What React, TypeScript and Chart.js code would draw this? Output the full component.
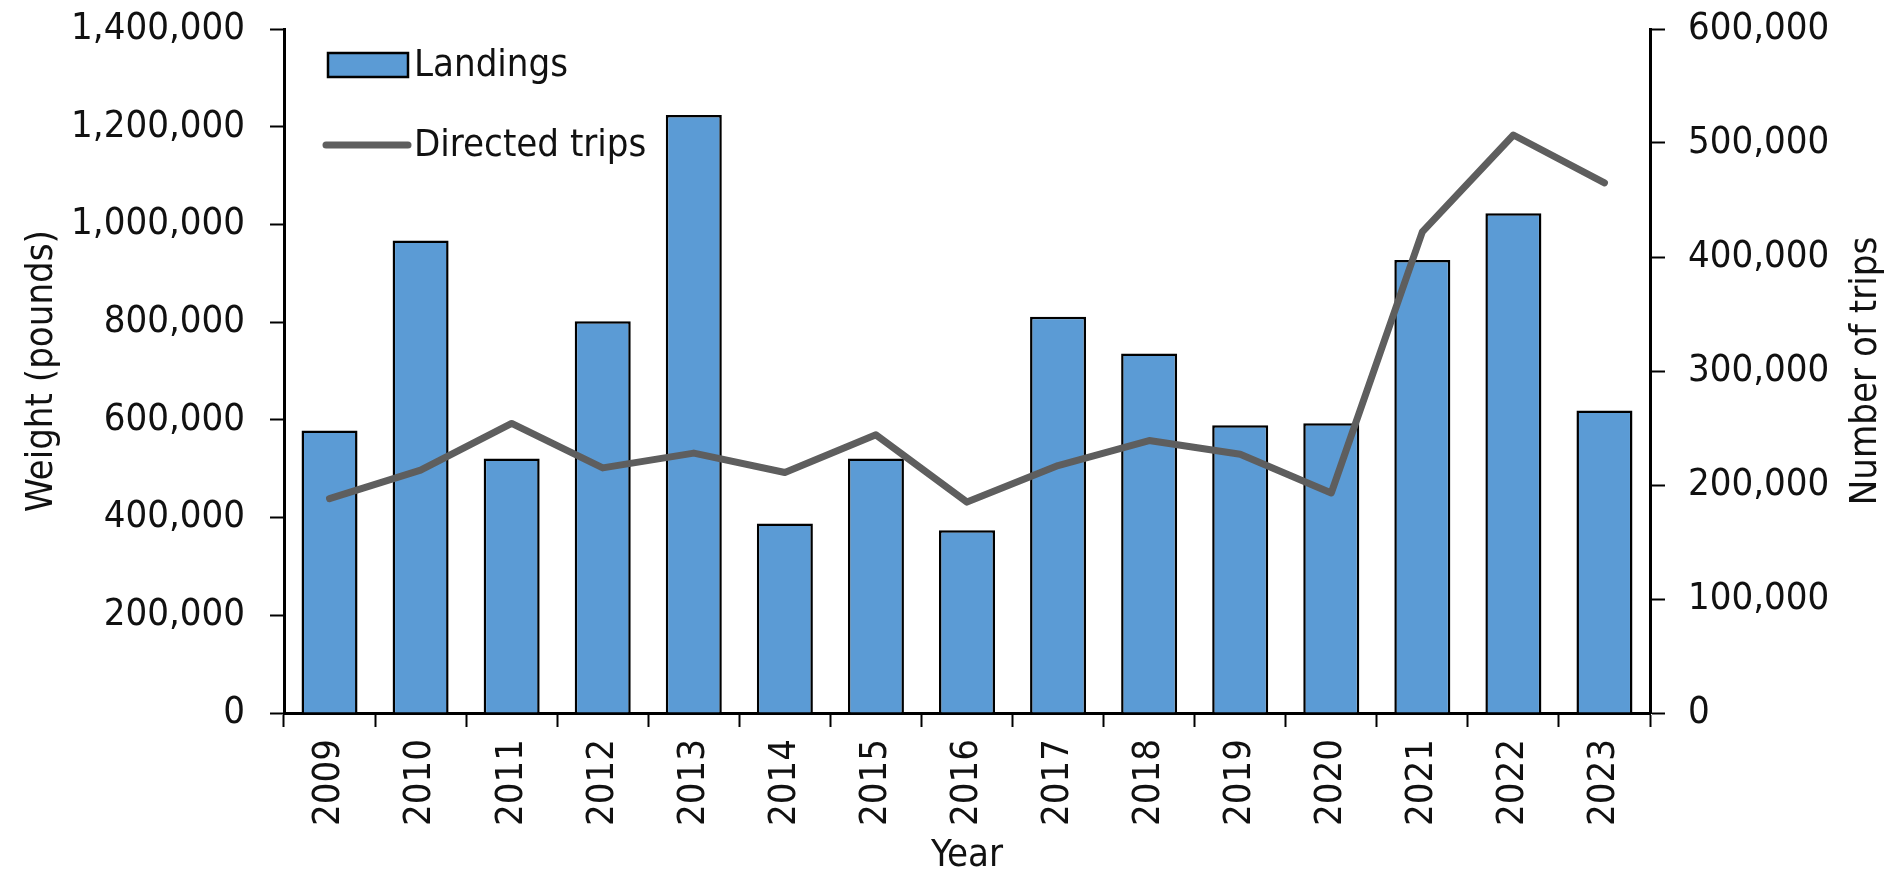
import React, { useEffect, useRef } from "react";
import { Chart, registerables } from "chart.js";

Chart.register(...registerables);

const years = ["2009", "2010", "2011", "2012", "2013", "2014", "2015", "2016", "2017", "2018", "2019", "2020", "2021", "2022", "2023"];
const landings = [578000, 967000, 521000, 802000, 1224000, 388000, 521000, 374000, 811000, 736000, 589000, 593000, 927000, 1023000, 619000];
const directedTrips = [188000, 213000, 254000, 215000, 228000, 211000, 244000, 185000, 217000, 239000, 227000, 193000, 422000, 507000, 465000];

const BAR_COLOR = "#5b9bd5";
const LINE_COLOR = "#5e5e5e";
const TEXT_COLOR = "#111111";
const FONT_FAMILY = '"DejaVu Sans Condensed", "DejaVu Sans", sans-serif';
const FONT_SIZE = 38;

const legendPlugin = {
  id: "insideLegend",
  afterDraw(chart: any) {
    const ctx = chart.ctx;
    const area = chart.chartArea;
    const left = area.left;
    ctx.save();
    ctx.font = `${FONT_SIZE}px ${FONT_FAMILY}`;
    ctx.textBaseline = "middle";
    ctx.textAlign = "left";
    // Landings
    ctx.fillStyle = BAR_COLOR;
    ctx.fillRect(left + 44, 53, 80, 24);
    ctx.strokeStyle = "#000";
    ctx.lineWidth = 2.5;
    ctx.strokeRect(left + 44, 53, 80, 24);
    ctx.fillStyle = TEXT_COLOR;
    ctx.fillText("Landings", left + 130, 66);
    // Directed trips
    ctx.strokeStyle = LINE_COLOR;
    ctx.lineWidth = 7;
    ctx.lineCap = "round";
    ctx.beginPath();
    ctx.moveTo(left + 42, 145);
    ctx.lineTo(left + 124, 145);
    ctx.stroke();
    ctx.fillText("Directed trips", left + 130, 146);
    // Right axis title, reading bottom-to-top
    ctx.translate(chart.width - 34, (area.top + area.bottom) / 2);
    ctx.rotate(-Math.PI / 2);
    ctx.textAlign = "center";
    ctx.fillText("Number of trips", 0, 0);
    ctx.restore();
  },
};

function fixVertical(width: number) {
  return (scale: any) => {
    scale.width = width;
    scale.paddingTop = 0;
    scale.paddingBottom = 0;
  };
}

export default function App() {
  const canvasRef = useRef<HTMLCanvasElement | null>(null);

  useEffect(() => {
    if (!canvasRef.current) return;
    const font = { family: FONT_FAMILY, size: FONT_SIZE };
    const chart = new Chart(canvasRef.current, {
      type: "bar",
      data: {
        labels: years,
        datasets: [
          {
            type: "line",
            label: "Directed trips",
            data: directedTrips,
            yAxisID: "y1",
            borderColor: LINE_COLOR,
            borderWidth: 7,
            pointRadius: 0,
            tension: 0,
            borderCapStyle: "round",
            borderJoinStyle: "round",
            order: 0,
          } as any,
          {
            type: "bar",
            label: "Landings",
            data: landings,
            yAxisID: "y",
            backgroundColor: BAR_COLOR,
            borderColor: "#000",
            borderWidth: 2.5,
            barPercentage: 0.615,
            categoryPercentage: 1,
            order: 1,
          },
        ],
      },
      options: {
        responsive: false,
        animation: false,
        devicePixelRatio: 1,
        layout: { padding: { top: 29, left: 0, right: 0, bottom: 0 } },
        plugins: {
          legend: { display: false },
          tooltip: { enabled: false },
        },
        scales: {
          x: {
            afterFit(scale: any) {
              scale.height = 160;
              scale.paddingLeft = 0;
              scale.paddingRight = 0;
            },
            grid: {
              display: true,
              drawOnChartArea: false,
              drawTicks: true,
              tickLength: 14,
              tickColor: "#000",
              tickWidth: 2,
              offset: true,
            },
            border: { display: true, color: "#000", width: 3 },
            ticks: {
              autoSkip: false,
              minRotation: 90,
              maxRotation: 90,
              padding: 12,
              color: TEXT_COLOR,
              font,
            },
            title: {
              display: true,
              text: "Year",
              color: TEXT_COLOR,
              font,
              padding: { top: 0, bottom: -6 },
            },
          },
          y: {
            position: "left",
            min: 0,
            max: 1400000,
            afterFit: fixVertical(284),
            grid: {
              display: true,
              drawOnChartArea: false,
              drawTicks: true,
              tickLength: 14,
              tickColor: "#000",
              tickWidth: 2,
            },
            border: { display: true, color: "#000", width: 3 },
            ticks: {
              stepSize: 200000,
              padding: 25,
              color: TEXT_COLOR,
              font,
              callback: (v: any) => Number(v).toLocaleString("en-US"),
            },
            title: {
              display: true,
              text: "Weight (pounds)",
              color: TEXT_COLOR,
              font,
              padding: { top: 19, bottom: 0 },
            },
          },
          y1: {
            position: "right",
            min: 0,
            max: 600000,
            afterFit: fixVertical(250),
            grid: {
              display: true,
              drawOnChartArea: false,
              drawTicks: true,
              tickLength: 15,
              tickColor: "#000",
              tickWidth: 2,
            },
            border: { display: true, color: "#000", width: 3 },
            ticks: {
              stepSize: 100000,
              padding: 23,
              color: TEXT_COLOR,
              font,
              callback: (v: any) => Number(v).toLocaleString("en-US"),
            },
            title: { display: false },
          },
        },
      } as any,
      plugins: [legendPlugin],
    });
    return () => chart.destroy();
  }, []);

  return (
    <div style={{ position: "absolute", left: 0, top: 0, width: 1900, height: 873, background: "#fff" }}>
      <canvas ref={canvasRef} width={1900} height={873} style={{ display: "block", width: 1900, height: 873 }} />
    </div>
  );
}
